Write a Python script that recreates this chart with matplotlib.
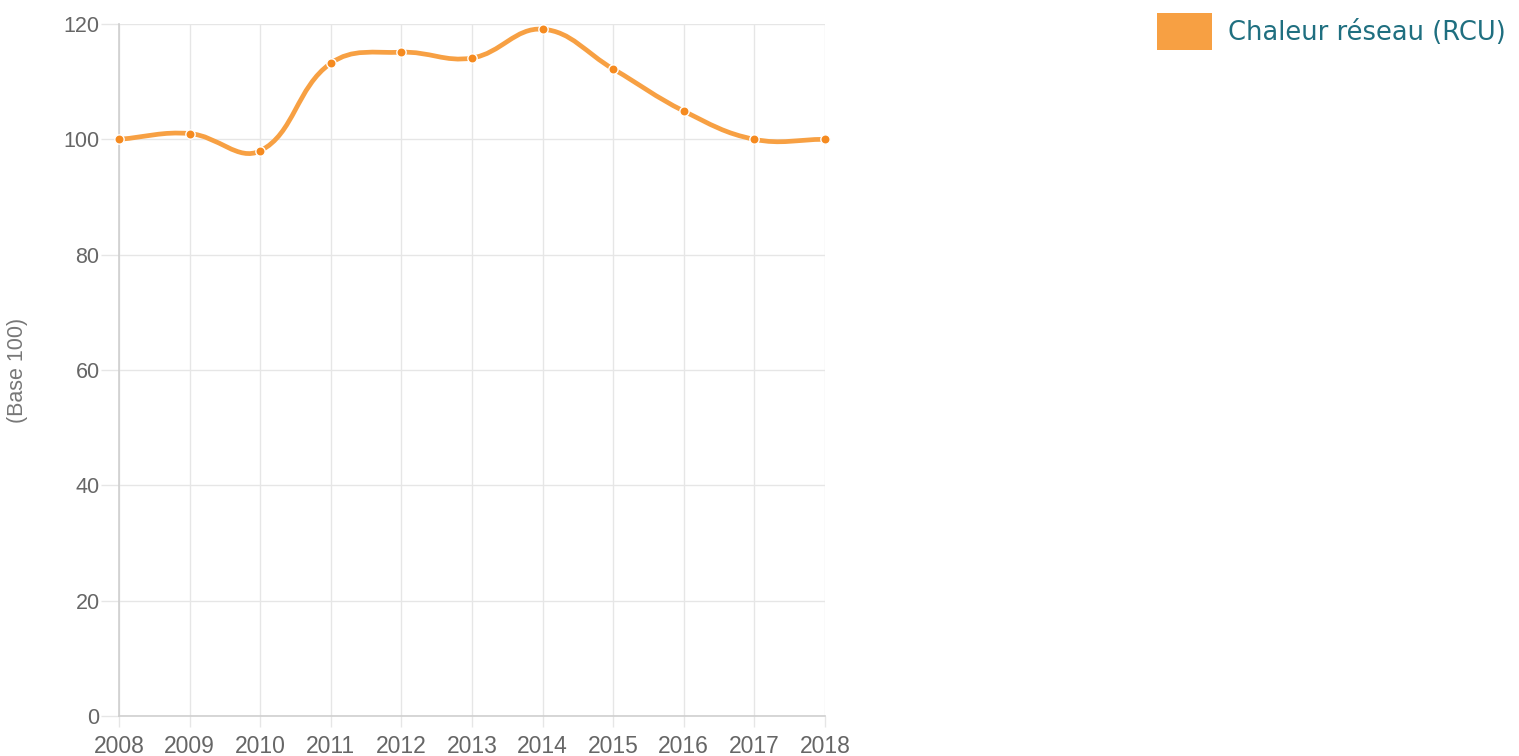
import numpy as np
import matplotlib
matplotlib.use("Agg")
import matplotlib.pyplot as plt
from matplotlib.path import Path
from matplotlib.patches import PathPatch, Rectangle

years = [2008, 2009, 2010, 2011, 2012, 2013, 2014, 2015, 2016, 2017, 2018]
values = [100, 101, 98, 113.2, 115.1, 114.1, 119.1, 112.2, 104.9, 100, 100]
series_name = "Chaleur réseau (RCU)"
y_label = "(Base 100)"
y_ticks = [0, 20, 40, 60, 80, 100, 120]

LINE = "#f7a043"
MARK = "#f58a1f"
GRID = "#e6e6e6"
TICK = "#666666"

W, H = 1519, 756
fig = plt.figure(figsize=(W / 100, H / 100), dpi=100)
x0, x1, ytop, ybot = 119, 825, 24, 716
ax = fig.add_axes([x0 / W, 1 - ybot / H, (x1 - x0) / W, (ybot - ytop) / H])
ax.set_xlim(years[0], years[-1])
ax.set_ylim(0, 120)

# Chart.js-like spline (tension 0.4) computed in pixel space
sx = (x1 - x0) / (years[-1] - years[0])
sy = (ybot - ytop) / 120.0
px = np.array([(y - years[0]) * sx for y in years])
py = np.array([-v * sy for v in values])
t = 0.4
n = len(px)
cp_prev = [None] * n
cp_next = [None] * n
for i in range(n):
    pi = np.array([px[i], py[i]])
    pp = np.array([px[max(i - 1, 0)], py[max(i - 1, 0)]])
    pn = np.array([px[min(i + 1, n - 1)], py[min(i + 1, n - 1)]])
    d01 = np.hypot(*(pi - pp))
    d12 = np.hypot(*(pn - pi))
    tot = d01 + d12
    s01 = d01 / tot if tot else 0
    s12 = d12 / tot if tot else 0
    cp_prev[i] = pi - t * s01 * (pn - pp)
    cp_next[i] = pi + t * s12 * (pn - pp)

def to_data(p):
    return (p[0] / sx + years[0], -p[1] / sy)

verts = [(years[0], values[0])]
codes = [Path.MOVETO]
for i in range(n - 1):
    verts += [to_data(cp_next[i]), to_data(cp_prev[i + 1]), (years[i + 1], values[i + 1])]
    codes += [Path.CURVE4] * 3
ax.add_patch(PathPatch(Path(verts, codes), facecolor="none", edgecolor=LINE, lw=3.4,
                       capstyle="round", joinstyle="round", zorder=3, clip_on=False))
ax.scatter(years, values, s=45, color=MARK, edgecolor="white", linewidth=1.0, zorder=4, clip_on=False)

ax.set_xticks(years)
ax.set_yticks(y_ticks)
ax.grid(True, color=GRID, lw=1)
ax.set_axisbelow(True)
for s in ["top", "right"]:
    ax.spines[s].set_visible(False)
for s in ["left", "bottom"]:
    ax.spines[s].set_color("#cfcfcf")
    ax.spines[s].set_linewidth(1.2)
ax.tick_params(axis="both", colors=GRID, width=1, labelcolor=TICK)
ax.tick_params(axis="x", length=8, pad=6, labelsize=16.5)
ax.tick_params(axis="y", length=13, pad=1, labelsize=15.5)
for lab in ax.get_xticklabels() + ax.get_yticklabels():
    lab.set_family("Liberation Sans")
ax.set_ylabel(y_label, color="#777777", fontsize=15.5, family="Liberation Sans")
ax.yaxis.set_label_coords((28 - x0) / (x1 - x0), 0.5)

# legend
fig.patches.append(Rectangle((1157 / W, 1 - 50 / H), 55 / W, 37 / H, transform=fig.transFigure,
                             facecolor=LINE, edgecolor="none"))
fig.text(1228 / W, 1 - 33 / H, series_name, color="#1f6f80", fontsize=18.5, family="DejaVu Sans",
         va="center", ha="left")

fig.savefig("out.png", dpi=100)
